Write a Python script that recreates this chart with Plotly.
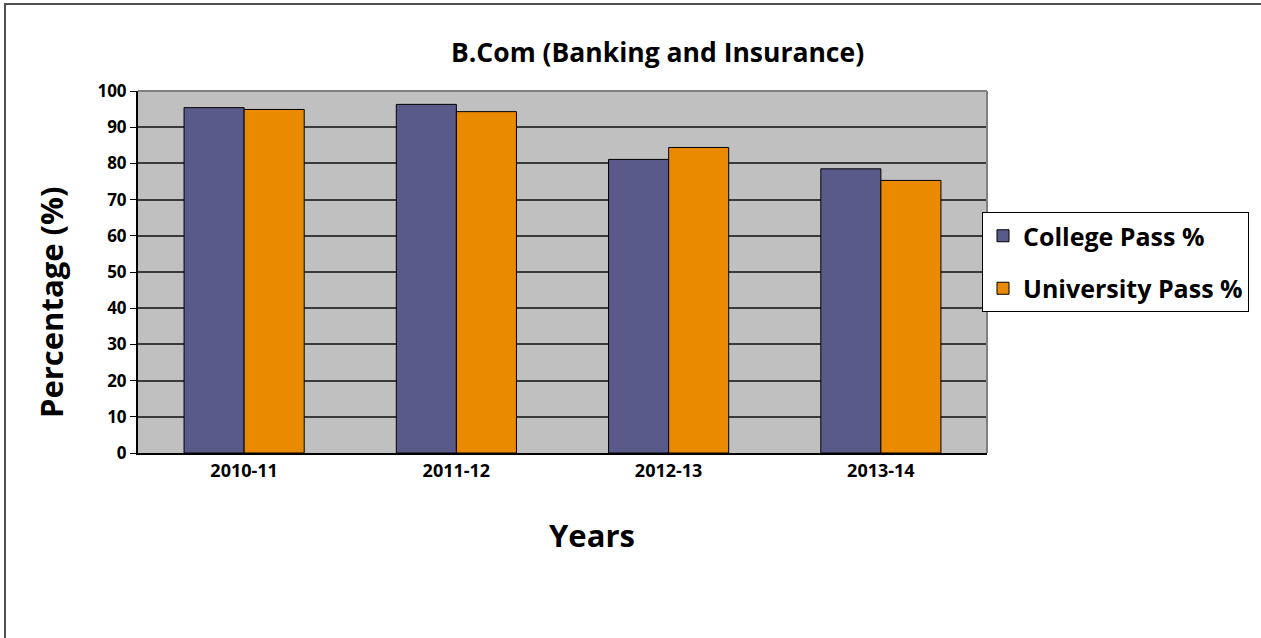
import plotly.graph_objects as go

years = ["2010-11", "2011-12", "2012-13", "2013-14"]
college_pass = [95.4, 96.3, 81.1, 78.5]
university_pass = [94.9, 94.3, 84.4, 75.3]
series_names = ["College Pass %", "University Pass %"]
y_ticks = list(range(0, 101, 10))

FONT = "Open Sans"
W, H = 1261, 638
L, R, T, B = 138, W - 987, 91, H - 453
PW, PH = W - L - R, H - T - B

def px(x):
    return (x - L) / PW

def py(y):
    return (H - B - y) / PH

fig = go.Figure()
fig.add_trace(go.Bar(x=years, y=college_pass, name=series_names[0], legendgroup="a",
                     marker=dict(color="#5a5a8a", line=dict(color="#000000", width=1))))
fig.add_trace(go.Bar(x=years, y=university_pass, name=series_names[1], legendgroup="b",
                     marker=dict(color="#ea8a00", line=dict(color="#000000", width=1))))

fig.update_layout(
    width=W, height=H,
    margin=dict(l=L, r=R, t=T, b=B, autoexpand=False),
    paper_bgcolor="white", plot_bgcolor="#c0c0c0",
    barmode="group", bargap=0.434, bargroupgap=0,
    font=dict(family=FONT, color="#000000"),
    showlegend=True,
    legend=dict(x=px(982), y=py(212), xanchor="left", yanchor="top",
                bgcolor="white", bordercolor="#000000", borderwidth=1,
                font=dict(family=FONT, size=25, color="#000000", weight="bold"),
                tracegroupgap=17, itemwidth=30),
    xaxis=dict(type="category", showline=True, linecolor="#000000", linewidth=2, ticks="",
               tickfont=dict(family=FONT, size=18, weight="bold"), showgrid=False),
    yaxis=dict(range=[0, 100], tickvals=y_ticks, showline=True, linecolor="#000000", linewidth=2,
               ticks="outside", ticklen=6, tickcolor="#000000", tickwidth=1,
               tickfont=dict(family=FONT, size=17, weight="bold"),
               showgrid=True, gridcolor="#3a3a3a", gridwidth=1.5, zeroline=False),
    shapes=[
        dict(type="line", xref="paper", yref="paper", x0=0, x1=1, y0=1, y1=1,
             line=dict(color="#808080", width=2), layer="above"),
        dict(type="line", xref="paper", yref="paper", x0=1, x1=1, y0=0, y1=1,
             line=dict(color="#808080", width=2), layer="above"),
        dict(type="rect", xref="paper", yref="paper", x0=px(5), x1=px(1300), y0=py(700), y1=py(4),
             line=dict(color="#505050", width=2), fillcolor="rgba(0,0,0,0)", layer="below"),
    ],
    annotations=[
        dict(text="B.Com (Banking and Insurance)", xref="paper", yref="paper",
             x=px(657), y=py(52), xanchor="center", yanchor="middle", showarrow=False,
             font=dict(family=FONT, size=26.5, weight="bold")),
        dict(text="Years", xref="paper", yref="paper",
             x=px(592), y=py(535), xanchor="center", yanchor="middle", showarrow=False,
             font=dict(family=FONT, size=31, weight="bold")),
        dict(text="Percentage (%)", xref="paper", yref="paper", textangle=-90,
             x=px(51), y=py(302), xanchor="center", yanchor="middle", showarrow=False,
             font=dict(family=FONT, size=31, weight="bold")),
    ],
)

fig.write_html("out.html", config={"displayModeBar": False},
               post_script="document.body.style.margin='0';")
